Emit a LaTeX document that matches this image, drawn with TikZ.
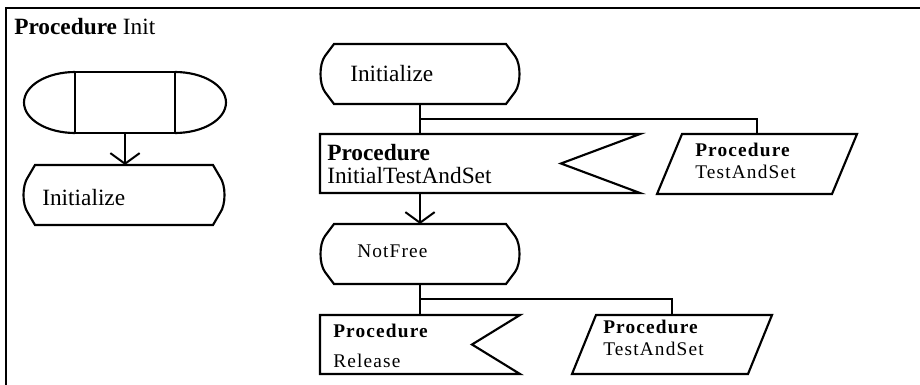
\documentclass[tikz,border=0pt]{standalone}
\usepackage{fontspec}
\setmainfont{Liberation Serif}
\newfontfamily\spacedserif[LetterSpace=6]{Liberation Serif}
\usetikzlibrary{calc,arrows.meta}

% outline of a terminal (start/state) symbol around a named node;
% #2 is how far the straight top and bottom edges stop short of the sides
\newcommand\termoutline[2]{%
  \draw[outline]
    ($(#1.north west)+(#2,0)$) -- ($(#1.north east)+(-#2,0)$)
    -- ($(#1.north east)+(-5,12)$)
    .. controls ($(#1.east)+(1,-10)$) and ($(#1.east)+(1,10)$) ..
    ($(#1.south east)+(-5,-12)$) -- ($(#1.south east)+(-#2,0)$)
    -- ($(#1.south west)+(#2,0)$) -- ($(#1.south west)+(5,-12)$)
    .. controls ($(#1.west)+(-1,10)$) and ($(#1.west)+(-1,-10)$) ..
    ($(#1.north west)+(5,12)$) -- cycle;}
% outline of a procedure call with a notch cut into its right side
\newcommand\notchoutline[2]{%
  \draw[outline] (#1.north west) -- (#1.north east)
    -- ($(#1.east)+(-#2,0)$) -- (#1.south east) -- (#1.south west) -- cycle;}
% outline of a slanted procedure reference
\newcommand\slantoutline[2]{%
  \draw[outline] ($(#1.north west)+(#2,0)$) -- (#1.north east)
    -- ($(#1.south east)+(-#2,0)$) -- (#1.south west) -- cycle;}

\begin{document}
\begin{tikzpicture}[x=0.75pt,y=-0.75pt,
  outline/.style={line width=1.6pt},
  link/.style={line width=1.5pt},
  thinlink/.style={line width=1pt},
  flow/.style={link,-{Straight Barb[length=8pt,width=22pt]}},
  shapebox/.style={inner sep=0pt,outer sep=0pt},
  bigtext/.style={anchor=base west,inner sep=0pt,font=\fontsize{17.5}{20}\selectfont},
  smalltext/.style={anchor=base west,inner sep=0pt,align=left,
    font=\fontsize{14.5}{22}\selectfont\spacedserif}]
\useasboundingbox (0,0) rectangle (920,385);

% frame
\draw[line width=1.5pt] (6,385) -- (6,8) -- (920,8);
\node[bigtext] (title) at (14,35) {\textbf{Procedure} Init};

% ---- left: start symbol and first state
\node[shapebox,minimum width=75pt,minimum height=45.75pt] (st) at (125,102.5) {};
\draw[outline] (st.north west) rectangle (st.south east);
\draw[outline] (st.north west)
  .. controls ($(st.west)+(-28,-30.5)$) and ($(st.west)+(-51,-17)$) .. ($(st.west)+(-51,0)$)
  .. controls ($(st.west)+(-51,17)$) and ($(st.west)+(-28,30.5)$) .. (st.south west);
\draw[outline] (st.north east)
  .. controls ($(st.east)+(28,-30.5)$) and ($(st.east)+(51,-17)$) .. ($(st.east)+(51,0)$)
  .. controls ($(st.east)+(51,17)$) and ($(st.east)+(28,30.5)$) .. (st.south east);

\node[shapebox,minimum width=151.5pt,minimum height=45pt] (init1) at (124,195) {};
\termoutline{init1}{12}
\node[bigtext] (init1t) at (42,205) {Initialize};
\draw[flow] (st.south) -- (st.south |- init1.north);

% ---- right: transitions from Initialize
\node[shapebox,minimum width=150pt,minimum height=45pt] (init2) at (420,74) {};
\termoutline{init2}{14}
\node[bigtext] (init2t) at (350,82) {Initialize};

\node[shapebox,minimum width=240pt,minimum height=44.25pt] (pits) at (480,163.5) {};
\notchoutline{pits}{79}
\node[bigtext,align=left] (pitst) at (327,160) {\textbf{Procedure}};
\node[bigtext] (pitsn) at (327,183) {InitialTestAndSet};

\node[shapebox,minimum width=150pt,minimum height=45pt] (tas1) at (757,164) {};
\slantoutline{tas1}{25}
\node[smalltext] (tas1t) at (695,156) {\bfseries Procedure};
\node[smalltext] (tas1n) at (695,178) {TestAndSet};

\node[shapebox,minimum width=150pt,minimum height=45pt] (nf) at (420,254) {};
\termoutline{nf}{14}
\node[smalltext] (nft) at (357,257) {NotFree};

\coordinate (br1) at (init2.south |- 0,119);
\draw[link] (init2.south) -- (init2.south |- pits.north);
\draw[thinlink] (br1) -- (br1 -| tas1.north) -- (tas1.north);
\draw[flow] (init2.south |- pits.south) -- (init2.south |- nf.north);

% ---- transitions from NotFree
\node[shapebox,minimum width=150pt,minimum height=44.25pt] (rel) at (420,344.5) {};
\notchoutline{rel}{48}
\node[smalltext] (relt) at (333,337) {\bfseries Procedure};
\node[smalltext] (reln) at (333,367) {Release};

\node[shapebox,minimum width=150pt,minimum height=44.25pt] (tas2) at (672,344.5) {};
\slantoutline{tas2}{24}
\node[smalltext] (tas2t) at (603,333) {\bfseries Procedure};
\node[smalltext] (tas2n) at (603,355) {TestAndSet};

\coordinate (br2) at (nf.south |- 0,299);
\draw[link] (nf.south) -- (rel.north);
\draw[link] (br2) -- (br2 -| tas2.north) -- (tas2.north);
\end{tikzpicture}
\end{document}
